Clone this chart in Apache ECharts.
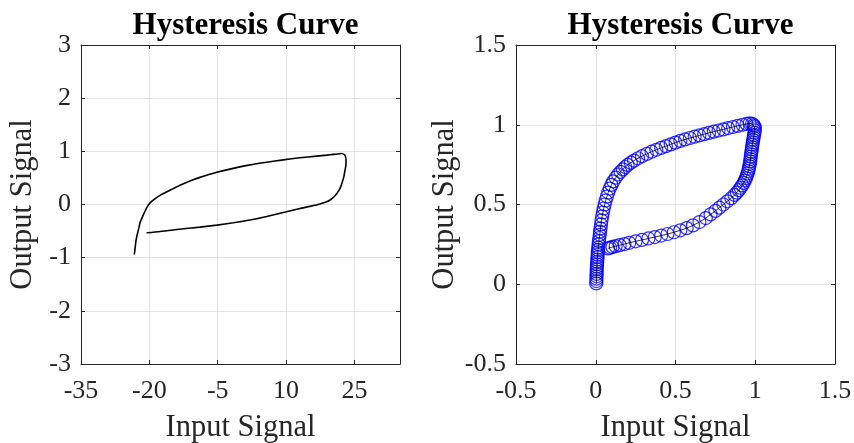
<!DOCTYPE html>
<html>
<head>
<meta charset="utf-8">
<script src="https://cdn.jsdelivr.net/npm/echarts@6/dist/echarts.min.js"></script>
<style>
html,body{margin:0;padding:0;background:#fff;}
#chart{width:854px;height:443px;}
</style>
</head>
<body>
<div id="chart"></div>
<script>
// ---- Data ----
const titleText = 'Hysteresis Curve';
const xLabel = 'Input Signal';
const yLabel = 'Output Signal';

// Left panel: raw hysteresis loop [input, output]
const rawInput = [-23.3,-23.1,-23.0,-22.8,-22.56,-22.3,-22.05,-21.7,-21.3,-20.9,-20.6,-19.86,-18.8,-17.3,-15.1,-12.9,-10.4,-8.9,-5.2,-1.6,2.1,5.75,9.4,13.0,16.7,18.9,20.4,22.2,22.9,23.15,23.1,22.9,22.7,22.4,22.1,21.7,20.7,19.3,17.45,15.25,13.06,9.4,5.75,2.1,-1.6,-5.2,-8.9,-12.55,-16.2,-19.5,-20.6];
const rawOutput = [-0.94,-0.80,-0.72,-0.62,-0.53,-0.44,-0.345,-0.27,-0.19,-0.12,-0.063,0.03,0.107,0.19,0.285,0.375,0.465,0.51,0.605,0.68,0.745,0.795,0.84,0.878,0.91,0.928,0.942,0.958,0.93,0.83,0.72,0.63,0.53,0.44,0.36,0.28,0.16,0.065,0.01,-0.035,-0.075,-0.15,-0.225,-0.29,-0.343,-0.388,-0.425,-0.457,-0.493,-0.527,-0.53];

// Right panel: normalised loop [input, output]
const normInput = [0.003,0.004,0.004,0.005,0.005,0.006,0.006,0.007,0.008,0.009,0.010,0.011,0.012,0.013,0.014,0.016,0.018,0.020,0.022,0.025,0.027,0.030,0.033,0.036,0.040,0.045,0.050,0.056,0.062,0.070,0.078,0.088,0.098,0.11,0.125,0.14,0.155,0.17,0.185,0.20,0.22,0.24,0.265,0.29,0.32,0.35,0.38,0.41,0.44,0.47,0.50,0.53,0.56,0.59,0.62,0.65,0.68,0.71,0.74,0.77,0.80,0.83,0.86,0.89,0.92,0.945,0.965,0.98,0.99,0.995,0.997,0.997,0.995,0.992,0.99,0.987,0.985,0.982,0.98,0.978,0.976,0.974,0.972,0.97,0.968,0.966,0.963,0.96,0.956,0.952,0.947,0.942,0.935,0.927,0.918,0.908,0.897,0.885,0.87,0.85,0.825,0.80,0.775,0.75,0.72,0.69,0.65,0.61,0.57,0.53,0.49,0.45,0.41,0.37,0.33,0.29,0.25,0.21,0.18,0.15,0.125,0.105,0.09,0.077];
const normOutput = [0.005,0.02,0.035,0.05,0.065,0.08,0.095,0.11,0.125,0.14,0.155,0.17,0.185,0.2,0.215,0.23,0.25,0.27,0.29,0.31,0.33,0.35,0.375,0.40,0.425,0.45,0.475,0.50,0.525,0.55,0.575,0.60,0.623,0.645,0.668,0.688,0.705,0.72,0.735,0.748,0.762,0.775,0.79,0.803,0.817,0.831,0.843,0.855,0.866,0.877,0.888,0.899,0.908,0.917,0.925,0.933,0.941,0.949,0.957,0.964,0.971,0.979,0.986,0.993,1.0,1.005,1.008,1.005,0.998,0.99,0.978,0.965,0.95,0.935,0.92,0.905,0.89,0.875,0.86,0.845,0.83,0.815,0.80,0.785,0.77,0.755,0.74,0.725,0.71,0.695,0.68,0.665,0.65,0.635,0.62,0.605,0.59,0.575,0.56,0.54,0.52,0.50,0.48,0.46,0.438,0.415,0.39,0.369,0.352,0.338,0.326,0.315,0.305,0.296,0.287,0.278,0.269,0.26,0.252,0.245,0.239,0.234,0.229,0.225];

// Axis ranges / ticks
const leftX = {min:-35, max:35, interval:15};
const leftY = {min:-3, max:3, interval:1};
const rightX = {min:-0.5, max:1.5, interval:0.5};
const rightY = {min:-0.5, max:1.5, interval:0.5};

// ---- Styling ----
const FONT = '"Liberation Serif", "Times New Roman", serif';
const AXC = '#262626';
const GRIDC = '#e3e3e3';
const grids = [
  {left:81, top:45, width:319, height:319, containLabel:false, outerBoundsMode:'none'},
  {left:516, top:45, width:319, height:319, containLabel:false, outerBoundsMode:'none'}
];

function zip(a,b){ return a.map((v,i)=>[v,b[i]]); }

function mainX(gi, r, showMax){
  return {gridIndex:gi, type:'value', position:'bottom', min:r.min, max:r.max, interval:r.interval,
    name:xLabel, nameLocation:'middle', nameGap:48,
    nameTextStyle:{fontFamily:FONT, fontSize:30.5, color:AXC},
    axisLine:{show:true, onZero:false, lineStyle:{color:AXC, width:1}},
    axisTick:{show:true, inside:true, length:4, lineStyle:{color:AXC}},
    axisLabel:{fontFamily:FONT, fontSize:26, color:AXC, margin:14, showMinLabel:true, showMaxLabel:showMax},
    splitLine:{show:true, lineStyle:{color:GRIDC, width:1}}};
}
function mainY(gi, r){
  return {gridIndex:gi, type:'value', position:'left', min:r.min, max:r.max, interval:r.interval,
    name:yLabel, nameLocation:'middle', nameGap:43,
    nameTextStyle:{fontFamily:FONT, fontSize:30.5, color:AXC},
    axisLine:{show:true, onZero:false, lineStyle:{color:AXC, width:1}},
    axisTick:{show:true, inside:true, length:4, lineStyle:{color:AXC}},
    axisLabel:{fontFamily:FONT, fontSize:26, color:AXC, margin:10, showMinLabel:true, showMaxLabel:true},
    splitLine:{show:true, lineStyle:{color:GRIDC, width:1}}};
}
function boxX(gi, r){
  return {gridIndex:gi, type:'value', position:'top', min:r.min, max:r.max, interval:r.interval,
    axisLine:{show:true, onZero:false, lineStyle:{color:AXC, width:1}},
    axisTick:{show:true, inside:true, length:4, lineStyle:{color:AXC}},
    axisLabel:{show:false}, splitLine:{show:false}};
}
function boxY(gi, r){
  return {gridIndex:gi, type:'value', position:'right', min:r.min, max:r.max, interval:r.interval,
    axisLine:{show:true, onZero:false, lineStyle:{color:AXC, width:1}},
    axisTick:{show:true, inside:true, length:4, lineStyle:{color:AXC}},
    axisLabel:{show:false}, splitLine:{show:false}};
}

const chart = echarts.init(document.getElementById('chart'), null, {renderer:'canvas'});
chart.setOption({
  animation:false,
  backgroundColor:'#fff',
  title:[
    {text:titleText, left:240.5, top:5, textAlign:'center', textStyle:{fontFamily:FONT, fontSize:31, fontWeight:'bold', color:'#000'}},
    {text:titleText, left:675.5, top:5, textAlign:'center', textStyle:{fontFamily:FONT, fontSize:31, fontWeight:'bold', color:'#000'}}
  ],
  grid:grids,
  xAxis:[mainX(0,leftX,false), boxX(0,leftX), mainX(1,rightX,true), boxX(1,rightX)],
  yAxis:[mainY(0,leftY), boxY(0,leftY), mainY(1,rightY), boxY(1,rightY)],
  series:[
    {type:'line', xAxisIndex:0, yAxisIndex:0, data:zip(rawInput, rawOutput), showSymbol:false, smooth:0.2,
      lineStyle:{color:'#000', width:1.6}, z:3},
    {type:'scatter', xAxisIndex:2, yAxisIndex:2, data:zip(normInput, normOutput), symbol:'circle', symbolSize:13,
      itemStyle:{color:'rgba(0,0,0,0)', borderColor:'#0000ff', borderWidth:1.2}, z:2},
    {type:'line', xAxisIndex:2, yAxisIndex:2, data:zip(normInput, normOutput), showSymbol:false,
      lineStyle:{color:'#000', width:0.8}, z:3}
  ]
});
</script>
</body>
</html>
